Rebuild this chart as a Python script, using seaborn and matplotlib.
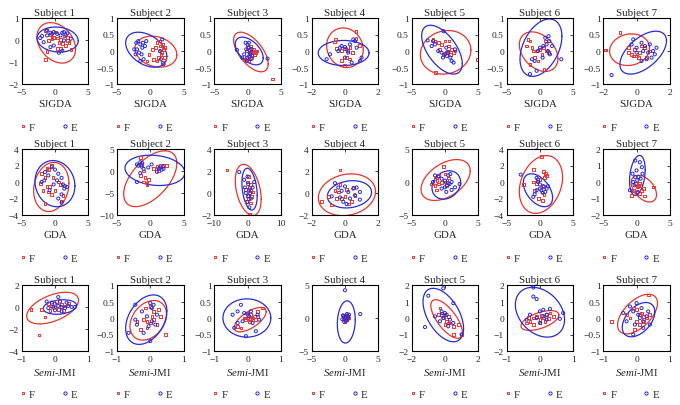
import numpy as np
import pandas as pd
import matplotlib
matplotlib.use("Agg")
import matplotlib.pyplot as plt
from matplotlib.lines import Line2D
import seaborn as sns

# ---------------- data ----------------
subjects = ["Subject 1", "Subject 2", "Subject 3", "Subject 4", "Subject 5", "Subject 6", "Subject 7"]
methods = ["SJGDA", "GDA", r"$\mathit{Semi}$-JMI"]

# axis limits / ticks per method row
sjgda_xlim = [(-5, 5), (-5, 5), (-5, 5), (-2, 2), (-5, 5), (-5, 5), (-2, 2)]
sjgda_ylim = [(-2, 1), (-1, 1), (-1, 1), (-1, 1), (-1, 1), (-1, 1), (-1, 1)]
sjgda_yticks = [[-2, -1, 0, 1]] + [[-1, -0.5, 0, 0.5, 1]] * 6

gda_xlim = [(-5, 5), (-5, 5), (-10, 10), (-2, 2), (-5, 5), (-5, 5), (-5, 5)]
gda_ylim = [(-4, 4), (-10, 5), (-2, 4), (-2, 4), (-5, 5), (-4, 4), (-2, 2)]
gda_yticks = [[-4, -2, 0, 2, 4], [-10, -5, 0, 5], [-2, 0, 2, 4], [-2, 0, 2, 4],
              [-5, 0, 5], [-4, -2, 0, 2, 4], [-2, -1, 0, 1, 2]]

jmi_xlim = [(-1, 1), (-1, 1), (-1, 1), (-5, 5), (-2, 2), (-1, 1), (-1, 1)]
jmi_ylim = [(-4, 2), (-1, 1), (-1, 1), (-5, 5), (-2, 2), (-2, 2), (-1, 1)]
jmi_yticks = [[-4, -2, 0, 2], [-1, -0.5, 0, 0.5, 1], [-1, -0.5, 0, 0.5, 1], [-5, 0, 5],
              [-2, -1, 0, 1, 2], [-2, -1, 0, 1, 2], [-1, -0.5, 0, 0.5, 1]]

# ellipse parameters (cx, cy, sx, sy, rho)
sjgda_ell_f = [(0.2, -0.13, 2.9, 0.92, -0.3), (0.85, -0.02, 3.15, 0.47, -0.2), (0.5, -0.03, 2.6, 0.6, -0.6),
               (0.0, 0.1, 1.1, 0.6, -0.1), (0.1, -0.04, 3.8, 0.66, 0.1), (-0.2, -0.02, 2.9, 0.6, -0.35),
               (-0.42, 0.04, 1.2, 0.48, 0.1)]
sjgda_ell_e = [(0.4, 0.02, 3.1, 0.57, -0.1), (-0.6, 0.04, 3.1, 0.53, -0.39), (0.25, 0.0, 2.1, 0.42, -0.5),
               (-0.08, -0.06, 1.53, 0.38, 0.0), (-0.45, 0.04, 3.05, 0.74, -0.57), (0.15, 0.1, 3.15, 0.87, 0.4),
               (0.4, -0.05, 1.4, 0.65, 0.55)]
gda_ell_f = [(-0.55, -0.6, 2.65, 2.98, 0.15), (0.0, -1.75, 4.0, 6.35, 0.55), (0.2, 0.28, 3.9, 2.33, -0.36),
             (0.12, -0.16, 1.72, 1.9, 0.15), (0.1, 0.3, 3.7, 3.1, 0.45), (0.15, -0.3, 3.25, 3.5, 0.25),
             (1.1, -0.4, 1.9, 0.81, -0.45)]
gda_ell_e = [(0.0, -0.2, 3.0, 2.8, -0.1), (0.7, 0.15, 4.5, 3.45, -0.15), (0.6, 0.35, 2.3, 1.9, -0.3),
             (0.27, -0.12, 1.33, 1.24, 0.15), (0.2, -0.45, 2.15, 2.15, 0.2), (-0.3, -1.0, 2.2, 2.0, -0.45),
             (0.12, 0.4, 1.18, 1.21, 0.28)]
jmi_ell_f = [(-0.07, -0.1, 0.78, 1.44, 0.5), (-0.06, -0.07, 0.55, 0.6, 0.3), (0.08, -0.05, 0.48, 0.37, 0.65),
             (0.2, 0.0, 0.5, 0.6, 0.1), (0.1, -0.06, 0.95, 1.17, -0.7), (0.0, -0.15, 0.57, 0.6, 0.55),
             (0.03, 0.12, 0.6, 0.6, 0.55)]
jmi_ell_e = [(0.15, 0.0, 0.5, 0.66, 0.2), (-0.12, -0.05, 0.62, 0.75, 0.35), (-0.02, 0.0, 0.72, 0.58, 0.0),
             (0.2, -0.6, 1.35, 3.2, 0.1), (-0.1, 0.18, 1.22, 1.62, -0.5), (0.0, 0.35, 0.74, 1.51, -0.3),
             (0.06, -0.05, 0.49, 0.52, 0.45)]

# ----- scatter points (x, y) -----
sjgda_f1 = [(-1.44, 0.44), (-0.68, 0.24), (-0.17, 0.13), (0.33, 0.09), (0.84, 0.03), (1.35, 0.18), (1.86, -0.02),
            (2.1, -0.1), (1.6, -0.25), (0.84, -0.37), (0.33, -0.4), (2.4, -0.43), (-1.2, -0.52), (-1.44, -0.89),
            (0.6, -0.1), (-0.43, 0.06), (0.08, 0.36), (1.1, -0.17), (1.86, 0.13), (-0.94, -0.02)]
sjgda_e1 = [(-2.21, 0.09), (-1.7, -0.1), (-1.19, 0.21), (-0.68, 0.33), (-0.43, 0.28), (-0.17, 0.36), (1.1, 0.33),
            (1.35, 0.36), (1.6, 0.24), (1.86, 0.3), (0.84, 0.21), (1.35, -0.02), (0.59, -0.58), (1.1, -0.48),
            (-0.17, -0.25), (-1.19, 0.44), (0.33, 0.28), (2.37, 0.06), (-0.68, -0.32), (-1.95, 0.18)]
sjgda_f2 = [(1.0, 0.25), (1.5, 0.15), (1.8, 0.2), (2.0, 0.05), (1.3, 0.0), (0.8, 0.1), (1.6, -0.1), (2.1, -0.2),
            (1.9, -0.35), (1.2, -0.2), (0.5, -0.25), (-0.2, -0.1), (0.3, 0.05), (1.7, -0.05), (2.2, 0.1),
            (1.0, -0.3), (-0.5, -0.3), (1.4, 0.3)]
sjgda_e2 = [(-2.1, 0.25), (-1.8, 0.3), (-1.5, 0.2), (-1.2, 0.1), (-2.0, 0.05), (-1.7, -0.05), (-1.3, -0.1),
            (-0.8, 0.15), (-2.2, -0.1), (-1.0, -0.25), (-1.5, -0.3), (1.8, 0.35), (1.6, -0.25), (2.0, -0.4),
            (-2.4, 0.05), (-1.1, 0.25), (-0.6, 0.3), (1.5, 0.0)]
sjgda_f3 = [(0.0, 0.1), (0.3, 0.05), (0.5, -0.05), (0.8, 0.0), (1.2, -0.05), (0.2, -0.15), (-0.2, -0.2),
            (0.6, -0.2), (1.0, -0.1), (0.4, 0.15), (-0.4, -0.25), (0.9, 0.05), (3.7, -0.85), (-0.2, 0.0),
            (0.1, -0.3), (1.4, 0.0)]
sjgda_e3 = [(-0.3, 0.25), (0.0, 0.2), (0.2, 0.25), (-0.2, 0.05), (0.3, -0.05), (-0.5, -0.1), (0.0, -0.2),
            (0.5, -0.25), (-1.6, 0.03), (3.0, -0.23), (0.6, 0.05), (-0.1, -0.3), (0.4, -0.1), (-0.8, -0.2),
            (0.7, -0.15), (0.2, 0.1)]
sjgda_f4 = [(-0.62, 0.27), (-0.56, 0.35), (0.66, 0.6), (0.86, 0.17), (-0.23, 0.02), (-0.03, 0.07), (0.07, -0.19),
            (0.27, -0.24), (-0.23, -0.29), (0.46, -0.04), (0.66, 0.37), (0.17, 0.02), (-0.52, 0.07),
            (-0.03, -0.45), (0.3, 0.1)]
sjgda_e4 = [(-1.1, -0.25), (-0.9, -0.1), (-0.3, 0.1), (-0.2, 0.15), (0.0, 0.12), (0.1, 0.05), (0.3, 0.2),
            (0.5, 0.35), (0.6, 0.3), (0.2, -0.05), (0.0, -0.2), (0.9, -0.3), (1.0, -0.2), (0.4, -0.35),
            (-0.4, 0.0), (0.7, 0.1)]
sjgda_f5 = [(-1.5, 0.3), (-1.0, 0.25), (-0.5, 0.2), (0.0, 0.3), (0.5, 0.15), (1.0, 0.05), (1.5, 0.0),
            (0.2, -0.05), (-0.3, -0.1), (0.8, -0.1), (1.3, -0.05), (-0.8, 0.05), (0.4, 0.0), (4.9, -0.25),
            (-1.4, -0.65), (-1.8, 0.35), (0.6, 0.3)]
sjgda_e5 = [(-2.6, 0.32), (-1.8, 0.3), (-1.5, 0.2), (-0.2, 0.6), (-1.0, 0.0), (-0.5, -0.05), (0.0, -0.1),
            (0.3, -0.15), (0.8, -0.2), (1.0, -0.3), (1.3, -0.35), (1.5, 0.05), (-0.3, -0.2), (0.5, -0.05),
            (-2.0, 0.15), (0.2, 0.1)]
sjgda_f6 = [(-1.8, 0.35), (-1.5, 0.3), (-1.2, 0.1), (-1.0, 0.0), (-0.5, 0.0), (0.0, 0.05), (0.5, 0.1),
            (1.0, 0.0), (0.3, -0.1), (-0.8, -0.2), (-1.5, -0.4), (0.6, -0.55), (1.3, -0.05), (-2.0, 0.15),
            (0.8, 0.3), (-0.3, -0.3)]
sjgda_e6 = [(-1.5, -0.7), (-0.5, -0.6), (1.3, 0.45), (1.4, 0.3), (1.0, 0.2), (0.5, 0.15), (0.0, 0.1),
            (-0.3, 0.0), (1.5, -0.1), (3.2, -0.25), (1.8, 0.15), (-1.2, -0.25), (0.8, 0.4), (1.2, 0.0),
            (-0.8, -0.3), (0.4, -0.2)]
sjgda_f7 = [(-1.9, 0.03), (-1.85, 0.03), (-1.0, 0.55), (-0.5, 0.1), (-0.3, -0.1), (0.0, -0.15), (-0.1, 0.05),
            (0.2, -0.05), (0.5, 0.1), (0.6, -0.2), (-0.2, -0.15), (0.3, 0.15), (-0.5, -0.05), (0.8, 0.0),
            (0.1, -0.2)]
sjgda_e7 = [(-1.5, -0.73), (-0.2, 0.35), (0.0, 0.1), (0.3, 0.25), (0.5, 0.15), (0.8, 0.2), (1.0, 0.0),
            (1.1, -0.1), (0.9, -0.2), (0.6, -0.25), (0.3, -0.3), (0.0, -0.05), (0.4, 0.0), (1.2, 0.1),
            (-0.3, 0.2), (0.7, -0.05)]

gda_f1 = [(-2.0, 1.0), (-1.5, 0.5), (-1.2, -0.5), (-1.8, -1.0), (-1.0, -1.2), (-0.5, -1.5), (0.0, -1.0),
          (-0.3, 0.5), (-1.0, 1.5), (-0.5, 2.0), (-1.2, 1.6), (0.5, 0.0), (1.0, -2.3), (-1.5, -2.6),
          (1.2, -1.6), (-2.2, -0.2), (0.8, -0.3), (-0.8, -0.5)]
gda_e1 = [(-1.5, 1.2), (-1.0, 0.8), (-0.5, 1.8), (0.0, 1.5), (0.5, 1.0), (1.0, 0.5), (1.2, -0.3), (1.5, -0.5),
          (1.8, -0.6), (1.4, -0.8), (1.0, -1.5), (0.5, -2.0), (-0.8, -1.0), (-1.6, 0.2), (-2.0, 0.0),
          (1.0, -2.5), (-0.2, -0.3), (0.3, 0.2)]
gda_f2 = [(-1.5, 3.0), (-1.3, 1.5), (-1.0, 0.0), (-0.8, -1.5), (-1.0, -2.5), (-0.5, -3.0), (-0.3, -2.0),
          (0.5, 0.5), (1.0, 1.0), (1.5, 1.2), (2.0, 1.3), (2.5, 1.2), (-1.5, -1.0), (-0.5, -2.8), (1.2, 0.2)]
gda_e2 = [(-2.0, 1.5), (-1.8, 1.2), (-1.5, 2.0), (-1.2, 1.8), (-1.0, 0.5), (-1.5, -0.5), (-2.0, -2.5),
          (1.3, 0.5), (1.5, 0.8), (1.7, 0.3), (1.9, 1.0), (2.0, 0.5), (1.0, -0.2), (-0.3, 0.8), (0.2, 1.5),
          (-1.3, 1.0)]
gda_f3 = [(-6.2, 2.1), (0.0, 1.0), (0.5, 0.5), (1.0, 0.2), (0.3, -0.5), (-0.3, -0.8), (0.8, -0.9), (1.5, 0.1),
          (0.6, -1.9), (0.2, 1.5), (-0.5, 0.3), (1.2, -0.3), (0.0, -0.2), (0.9, 0.8)]
gda_e3 = [(-2.5, 1.9), (-1.0, 1.2), (0.0, 1.5), (2.0, 1.0), (0.5, 0.3), (-0.5, 0.0), (0.3, -0.3), (1.0, -0.5),
          (0.0, -0.8), (0.5, -1.3), (1.5, 0.5), (-0.8, 0.5), (0.8, 0.0), (0.2, 0.8)]
gda_f4 = [(-0.3, 2.1), (-1.4, -0.8), (-0.8, -1.1), (-0.6, 0.2), (-0.4, 0.1), (-0.5, -0.5), (0.0, -0.3),
          (0.2, -1.0), (0.4, -0.8), (-0.2, -0.5), (0.5, 0.5), (-0.3, 0.8), (0.1, 0.3), (0.6, -0.2), (-1.0, -0.3)]
gda_e4 = [(-0.6, 0.9), (-0.8, -0.3), (-0.4, 0.5), (-0.2, 0.2), (0.0, 0.6), (0.2, 0.1), (0.5, 0.4), (0.7, 0.5),
          (0.9, 0.1), (0.9, -0.6), (0.3, -0.5), (-0.1, -0.8), (0.1, -1.0), (0.6, -0.2), (-0.3, -0.4)]
gda_f5 = [(-0.2, 2.4), (-1.0, 1.0), (-1.5, 0.5), (-2.0, -0.3), (-1.5, -0.5), (-1.0, -0.3), (-0.5, -0.1),
          (0.0, 0.0), (0.3, 0.3), (0.5, 0.6), (-1.3, -1.2), (0.2, -0.5), (-1.2, 0.2), (0.0, 1.2)]
gda_e5 = [(-1.5, 1.0), (-1.0, 0.8), (-0.5, 0.5), (0.0, 0.2), (0.5, 1.0), (0.8, 1.2), (0.3, -0.5), (0.7, -0.3),
          (1.0, 0.0), (1.5, -0.8), (2.2, -0.3), (-0.5, -1.0), (0.2, -1.5), (1.0, -1.2), (0.5, -0.2),
          (-1.8, 0.0), (0.0, -0.8)]
gda_f6 = [(0.2, 3.1), (-1.0, 1.5), (0.5, 1.3), (0.8, 1.0), (0.7, 0.5), (-1.0, 0.0), (-0.5, -0.2), (0.0, 0.3),
          (0.5, -0.5), (-2.5, -0.3), (-0.8, -1.0), (0.3, -1.2), (0.6, -1.5), (-0.2, -2.0), (1.0, 0.8), (0.4, -2.2)]
gda_e6 = [(-2.9, 0.9), (-0.5, 0.5), (-0.3, 0.0), (0.0, -0.3), (0.5, -0.5), (1.0, -0.8), (0.2, -1.0),
          (-0.5, -1.0), (-0.8, -1.5), (0.4, -1.3), (0.8, -1.2), (-0.3, 0.3), (1.2, -0.5), (0.0, -0.8), (-1.0, -1.8)]
gda_f7 = [(2.6, -0.3), (0.5, -0.1), (0.2, -0.3), (-0.5, -0.5), (0.0, -0.6), (0.5, -0.7), (1.0, -0.4),
          (1.2, -0.85), (-0.8, -0.8), (0.3, -0.2), (-0.2, -0.1), (0.7, -0.5)]
gda_e7 = [(-0.2, 1.3), (0.5, 1.2), (0.8, 0.9), (0.0, 0.7), (-0.2, 0.3), (0.3, 0.3), (0.1, 0.1), (-0.5, 0.0),
          (-0.3, -0.2), (0.6, 0.2), (-1.0, -0.5), (0.2, -0.6), (-0.6, 0.5), (0.9, 0.5)]

jmi_f1 = [(-0.48, -2.55), (-0.72, -0.2), (-0.3, -0.9), (-0.2, 0.3), (-0.1, 0.1), (0.0, 0.0), (0.1, -0.2),
          (0.2, 0.2), (0.3, 0.1), (-0.4, -0.2), (0.05, 0.5), (-0.15, -0.3), (0.25, -0.3), (0.4, 0.3)]
jmi_e1 = [(-0.25, 0.5), (-0.1, 0.4), (0.0, 0.3), (0.1, 0.9), (0.1, 0.1), (0.2, 0.0), (0.3, -0.1), (0.4, 0.1),
          (0.5, 0.0), (-0.2, -0.1), (0.0, -0.3), (0.2, -0.4), (0.15, 0.5), (-0.05, -0.05), (0.35, 0.4), (0.6, 0.0)]
jmi_f2 = [(-0.15, 0.3), (0.0, 0.35), (0.1, 0.2), (0.25, 0.25), (0.3, 0.05), (-0.2, -0.05), (-0.1, -0.1),
          (0.0, -0.15), (0.1, -0.05), (-0.3, -0.35), (-0.1, -0.3), (0.05, 0.05), (0.2, -0.2), (0.45, -0.5),
          (-0.4, -0.1)]
jmi_e2 = [(-0.45, 0.4), (-0.65, -0.45), (0.0, 0.45), (0.05, 0.3), (-0.25, 0.2), (-0.1, 0.05), (0.05, -0.1),
          (0.15, -0.2), (-0.05, -0.25), (-0.2, -0.45), (0.0, -0.7), (-0.45, -0.05), (-0.4, -0.2), (0.2, 0.1),
          (0.1, 0.4)]
jmi_f3 = [(0.0, 0.15), (0.1, 0.1), (0.2, 0.05), (0.3, 0.2), (0.45, 0.3), (0.0, 0.0), (0.1, -0.05), (0.05, -0.1),
          (-0.1, 0.0), (0.15, 0.0), (0.25, -0.05), (-0.2, -0.3), (-0.05, -0.05), (0.3, 0.05), (-0.3, -0.25)]
jmi_e3 = [(-0.45, 0.1), (-0.3, 0.2), (-0.2, 0.4), (-0.1, 0.15), (0.0, 0.1), (0.05, 0.05), (-0.15, -0.1),
          (-0.3, -0.15), (-0.4, -0.3), (0.15, -0.15), (0.3, 0.1), (0.35, -0.05), (0.25, -0.4), (-0.05, -0.55),
          (0.1, 0.2)]
jmi_f4 = [(0.0, 0.2), (0.2, 0.1), (0.4, 0.3), (-0.2, -0.1), (0.1, -0.3), (0.3, -0.2), (-0.3, 0.1), (0.5, 0.0),
          (0.0, -0.5), (0.2, 0.4)]
jmi_e4 = [(0.0, 4.2), (2.3, 0.6), (-0.2, 0.3), (0.3, 0.6), (0.5, 0.2), (-0.4, -0.2), (0.2, -0.4), (0.6, 0.5),
          (-0.1, -0.6), (0.4, -0.1), (-0.3, 0.4), (0.1, 0.0)]
jmi_f5 = [(-0.3, 0.6), (-0.2, 0.3), (0.0, 0.2), (0.2, 0.1), (0.1, -0.2), (0.3, -0.3), (0.5, -0.5), (0.8, -0.4),
          (1.0, -1.0), (0.5, -1.0), (-0.1, 0.0), (0.0, -0.4), (0.2, -0.3), (-0.4, 0.2)]
jmi_e5 = [(-0.1, 1.8), (-1.0, 1.35), (-1.2, -0.55), (0.5, 0.9), (-0.2, 0.4), (0.0, 0.3), (0.1, 0.2), (-0.1, 0.0),
          (0.3, -0.1), (0.5, -0.3), (1.0, -1.0), (-0.3, -0.2), (-0.6, 0.1), (0.2, -0.5), (-0.2, 0.15)]
jmi_f6 = [(-0.4, -0.3), (-0.3, -0.2), (-0.2, 0.0), (-0.1, 0.1), (0.0, -0.1), (0.1, 0.0), (0.2, 0.2), (0.3, 0.3),
          (0.4, 0.1), (-0.2, -0.4), (0.0, -0.3), (0.15, -0.2), (-0.35, 0.05), (0.25, -0.05), (0.05, 0.15)]
jmi_e6 = [(-0.2, 1.85), (-0.2, 1.3), (-0.1, 1.15), (0.0, 0.4), (0.1, 0.5), (0.3, 0.55), (0.6, -0.05), (0.7, 0.3),
          (0.2, -0.1), (-0.1, 0.0), (0.0, -0.3), (0.1, 0.1), (-0.3, 0.2), (0.2, 0.2), (-0.4, -0.1)]
jmi_f7 = [(-0.75, -0.1), (0.35, 0.7), (-0.1, 0.3), (0.0, 0.25), (0.1, 0.1), (0.2, 0.05), (0.3, 0.0), (-0.2, 0.0),
          (0.0, -0.1), (0.1, -0.2), (-0.05, -0.35), (0.4, 0.1), (0.15, 0.15), (-0.3, 0.1), (0.2, -0.1)]
jmi_e7 = [(-0.2, 0.35), (-0.1, 0.2), (0.0, 0.45), (0.05, 0.1), (0.1, 0.0), (0.2, -0.1), (0.3, 0.05), (0.4, -0.2),
          (-0.3, -0.1), (0.2, -0.3), (-0.05, -0.2), (-0.1, -0.5), (0.15, 0.3), (0.35, 0.2), (-0.4, 0.15)]

rows = [
    dict(label=methods[0], xlim=sjgda_xlim, ylim=sjgda_ylim, yticks=sjgda_yticks, ef=sjgda_ell_f, ee=sjgda_ell_e,
         F=[sjgda_f1, sjgda_f2, sjgda_f3, sjgda_f4, sjgda_f5, sjgda_f6, sjgda_f7],
         E=[sjgda_e1, sjgda_e2, sjgda_e3, sjgda_e4, sjgda_e5, sjgda_e6, sjgda_e7]),
    dict(label=methods[1], xlim=gda_xlim, ylim=gda_ylim, yticks=gda_yticks, ef=gda_ell_f, ee=gda_ell_e,
         F=[gda_f1, gda_f2, gda_f3, gda_f4, gda_f5, gda_f6, gda_f7],
         E=[gda_e1, gda_e2, gda_e3, gda_e4, gda_e5, gda_e6, gda_e7]),
    dict(label=methods[2], xlim=jmi_xlim, ylim=jmi_ylim, yticks=jmi_yticks, ef=jmi_ell_f, ee=jmi_ell_e,
         F=[jmi_f1, jmi_f2, jmi_f3, jmi_f4, jmi_f5, jmi_f6, jmi_f7],
         E=[jmi_e1, jmi_e2, jmi_e3, jmi_e4, jmi_e5, jmi_e6, jmi_e7]),
]

# ---------------- style ----------------
sns.set_style("white")
plt.rcParams["font.family"] = ["Liberation Serif", "DejaVu Serif"]
plt.rcParams["mathtext.fontset"] = "custom"
plt.rcParams["mathtext.rm"] = "Liberation Serif"
plt.rcParams["mathtext.it"] = "Liberation Serif:italic"
plt.rcParams["axes.unicode_minus"] = True

RED = "#e8342c"
BLUE = "#2a2ad8"
TICK_FS = 6.8
LAB_FS = 7.8

W, H = 680, 406
fig = plt.figure(figsize=(W / 100, H / 100), dpi=100)
lefts = [21.7, 117, 214.3, 311.7, 411.7, 506.7, 603.3]
tops = [19, 150, 286]
aw, ah = 66.5, 66


def fmt(v):
    s = f"{v:g}"
    return s.replace("-", "\u2212")


def ellipse(ax, p, color):
    cx, cy, sx, sy, rho = p
    cov = np.array([[sx * sx, rho * sx * sy], [rho * sx * sy, sy * sy]])
    L = np.linalg.cholesky(cov)
    t = np.linspace(0, 2 * np.pi, 240)
    pts = L @ np.vstack([np.cos(t), np.sin(t)])
    ax.plot(cx + pts[0], cy + pts[1], color=color, lw=0.9)


for r, row in enumerate(rows):
    for c in range(7):
        ax = fig.add_axes([lefts[c] / W, 1 - (tops[r] + ah) / H, aw / W, ah / H])
        fdf = pd.DataFrame(row["F"][c], columns=["x", "y"])
        edf = pd.DataFrame(row["E"][c], columns=["x", "y"])
        ellipse(ax, row["ef"][c], RED)
        ellipse(ax, row["ee"][c], BLUE)
        sns.scatterplot(data=fdf, x="x", y="y", ax=ax, marker="s", s=4,
                        facecolors="none", edgecolors=RED, linewidths=0.7, zorder=3)
        sns.scatterplot(data=edf, x="x", y="y", ax=ax, marker="o", s=5,
                        facecolors="none", edgecolors=BLUE, linewidths=0.7, zorder=3)
        x0, x1 = row["xlim"][c]
        ax.set_xlim(x0, x1)
        ax.set_ylim(*row["ylim"][c])
        xt = [x0, 0, x1]
        ax.set_xticks(xt)
        ax.set_xticklabels([fmt(v) for v in xt])
        yt = row["yticks"][c]
        ax.set_yticks(yt)
        ax.set_yticklabels([fmt(v) for v in yt])
        ax.tick_params(direction="in", length=2, width=0.6, labelsize=TICK_FS, pad=2,
                       top=True, right=True)
        ax.tick_params(axis="x", pad=3)
        for sp in ax.spines.values():
            sp.set_color("black")
            sp.set_linewidth(0.8)
        ax.set_title(subjects[c], fontsize=LAB_FS, pad=2.5)
        ax.set_xlabel(row["label"], fontsize=LAB_FS, labelpad=2)
        ax.set_ylabel("")
        handles = [Line2D([], [], ls="", marker="s", ms=2.0, mfc="none", mec=RED, mew=0.7),
                   Line2D([], [], ls="", marker="o", ms=2.3, mfc="none", mec=BLUE, mew=0.7)]
        ax.legend(handles, ["F", "E"], ncol=2, loc="center left", bbox_to_anchor=(-0.04, -0.65),
                  frameon=False, fontsize=LAB_FS, handlelength=0.7, handletextpad=0.2,
                  columnspacing=2.4, borderpad=0, borderaxespad=0)

fig.savefig("out.png", dpi=100, facecolor="white")
